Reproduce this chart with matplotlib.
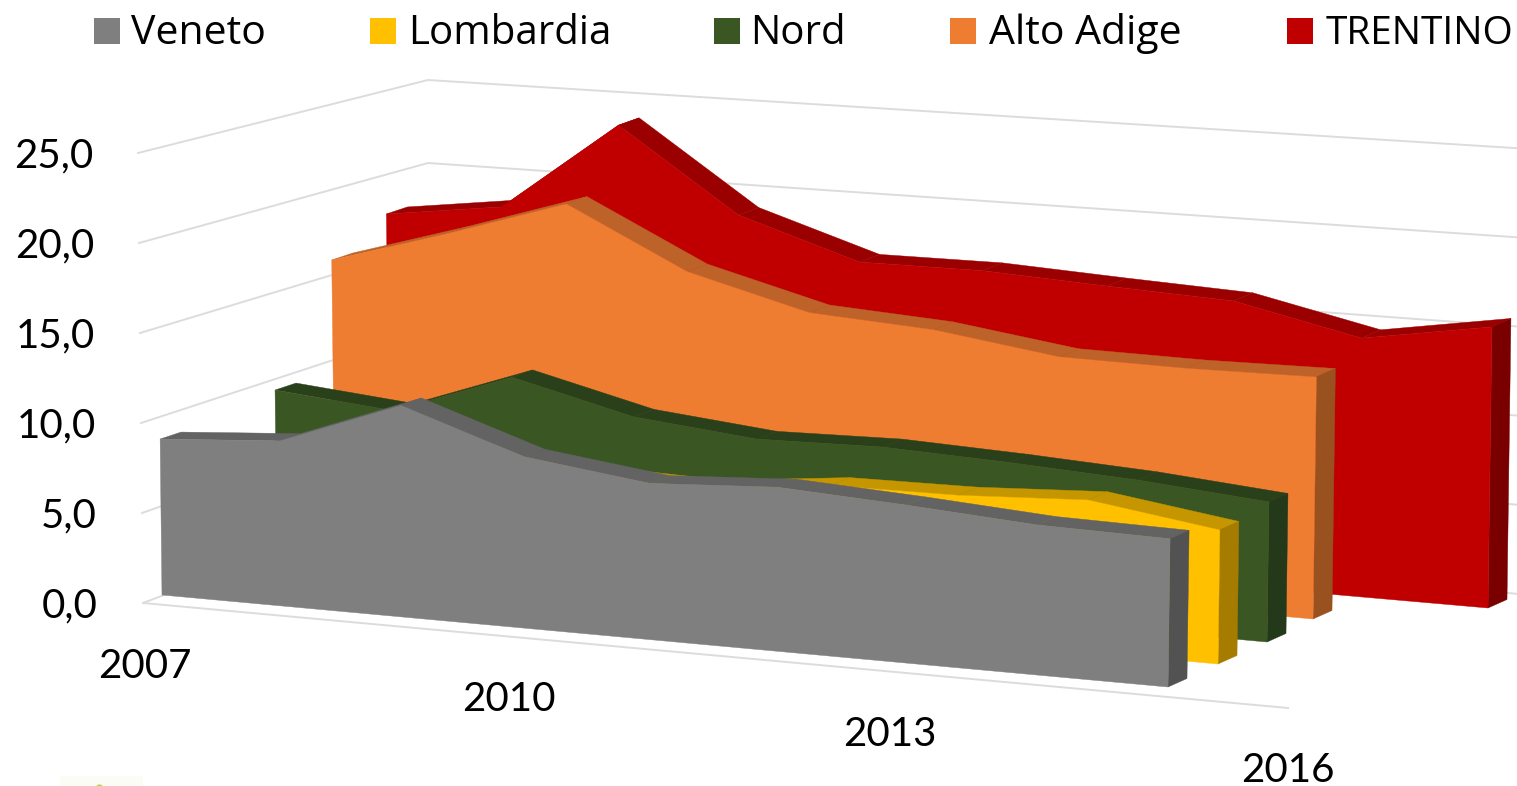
import numpy as np
import matplotlib
matplotlib.use("Agg")
import matplotlib.pyplot as plt

# values
years = [2007, 2008, 2009, 2010, 2011, 2012, 2013, 2014, 2015, 2016]
veneto = [8.76, 9.20, 11.70, 9.40, 8.50, 8.85, 8.45, 7.96, 7.80]
lombardia = [6.80, 7.40, 8.20, 7.35, 7.12, 7.82, 7.85, 8.16, 7.13]
nord = [9.36, 8.71, 11.14, 9.43, 8.73, 8.84, 8.54, 8.14, 7.53]
alto_adige = [15.94, 17.94, 20.08, 16.63, 14.76, 14.28, 13.26, 13.12, 13.15]
trentino = [17.74, 18.63, 23.90, 19.10, 16.85, 16.85, 16.47, 16.13, 14.55, 15.70]
y_ticks = [0, 5, 10, 15, 20, 25]
x_tick_years = [2007, 2010, 2013, 2016]

# name, values, colours (front, top, side), depth plane in pixels:
# left x, left base y, right x, right base y, px per unit left, px per unit right
series = [
    ("TRENTINO", trentino, ("#C00000", "#9A0000", "#7A0000"), (390, 512, 1488, 608, 16.8, 17.9)),
    ("Alto Adige", alto_adige, ("#EE7D31", "#BD6329", "#9A5120"), (335, 531, 1313, 619, 17.0, 18.4)),
    ("Nord", nord, ("#3A5723", "#2A401A", "#24391A"), (277, 552, 1267, 642, 17.3, 18.6)),
    ("Lombardia", lombardia, ("#FFC000", "#C59600", "#A67C00"), (220, 573, 1218, 664, 17.5, 18.8)),
    ("Veneto", veneto, ("#7F7F7F", "#636363", "#525252"), (162, 595, 1168, 687, 17.8, 19.0)),
]
# square x, text x, text size
legend_pos = {"Veneto": (94, 131, 29.5), "Lombardia": (370, 408, 29), "Nord": (714, 750, 29),
              "Alto Adige": (950, 989, 29.5), "TRENTINO": (1287, 1326, 28)}


def warp(t, n):
    # category spacing grows a little towards the viewer
    t = np.asarray(t, dtype=float)
    return (118 * t + 0.95 * t ** 2) / (118 * n + 0.95 * n ** 2)


def project(values, plane):
    x0, y0, x1, y1, s0, s1 = plane
    values = np.asarray(values, dtype=float)
    f = warp(np.arange(len(values)), len(values) - 1)
    base_x = x0 + (x1 - x0) * f
    base_y = y0 + (y1 - y0) * f
    h = values * (s0 + (s1 - s0) * f)
    lean = -0.012 + 0.026 * f
    return base_x, base_y, base_x + h * lean, base_y - h, f


def wall_front(v):
    return 143 - 0.2 * v, 603 - 18.0 * v


def wall_back(v):
    return 428, 495 - 16.6 * v


def wall_right(v):
    return 1530, 595 - 17.84 * v


plt.rcParams["font.family"] = ["Lato", "DejaVu Sans"]
fig = plt.figure(figsize=(15.17, 7.86), dpi=100)
ax = fig.add_axes([0, 0, 1, 1])
ax.set_xlim(0, 1517)
ax.set_ylim(786, 0)
ax.axis("off")

# walls
grid = "#DCDCDC"
for v in y_ticks:
    a, b, c = wall_front(v), wall_back(v), wall_right(v)
    ax.plot([a[0], b[0], c[0]], [a[1], b[1], c[1]], color=grid, lw=1.4, zorder=1)
    ax.text(a[0] - 45, a[1] + 3, f"{v},0", ha="right", va="center",
            fontsize=29, color="black", zorder=5)
ax.plot([143, 1288], [603, 708], color=grid, lw=1.4, zorder=1)

# areas, back to front
for name, values, (front, top, side), plane in series:
    bx, by, tx, ty, f = project(values, plane)
    dx = 21 - 2 * f
    dy = -7 - 1.5 * f
    for i in range(len(values) - 1):
        ax.fill([tx[i], tx[i + 1], tx[i + 1] + dx[i + 1], tx[i] + dx[i]],
                [ty[i], ty[i + 1], ty[i + 1] + dy[i + 1], ty[i] + dy[i]],
                color=top, lw=0.3, zorder=2)
    ax.fill([tx[-1], tx[-1] + dx[-1], bx[-1] + dx[-1], bx[-1]],
            [ty[-1], ty[-1] + dy[-1], by[-1] + dy[-1], by[-1]],
            color=side, lw=0.3, zorder=2)
    ax.fill(np.r_[bx[0], tx, bx[-1]], np.r_[by[0], ty, by[-1]], color=front, lw=0.3, zorder=2)

# x labels
lab_f = warp([y - years[0] for y in x_tick_years], years[-1] - years[0])
for y, f in zip(x_tick_years, lab_f):
    ax.text(145 + 1143 * f, 667 + 103 * f, str(y), ha="center", va="center",
            fontsize=29, color="black", zorder=5)

# legend
for name, values, (front, top, side), plane in series:
    sx, tx0, size = legend_pos[name]
    ax.add_patch(plt.Rectangle((sx, 18), 26, 26, color=front, lw=0, zorder=5))
    ax.text(tx0, 34, name, ha="left", va="center", fontsize=size, family=["Open Sans", "DejaVu Sans"],
            color="black", zorder=5)

# leftover logo corner at the bottom edge of the source image
ax.add_patch(plt.Rectangle((60, 776), 83, 12, color="#FCFCF6", lw=0, zorder=1))
ax.scatter([99], [788], s=35, color="#C4CE50", lw=0, zorder=2)

fig.savefig("out.png", dpi=100)
